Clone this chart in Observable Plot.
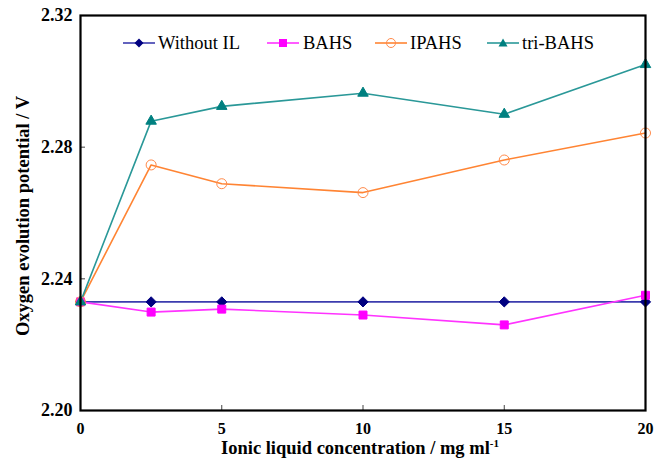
<!DOCTYPE html>
<html><head><meta charset="utf-8">
<script src="https://cdn.jsdelivr.net/npm/d3@7"></script>
<script src="https://cdn.jsdelivr.net/npm/@observablehq/plot@0.6"></script>
<style>
body{margin:0;background:#fff;}
#wrap{position:relative;width:666px;height:465px;font-family:'Liberation Serif',serif;}
#legend{position:absolute;left:0;top:0;width:666px;height:60px;pointer-events:none;font-size:18.5px;color:#000;}
.sw{position:absolute;top:34px;}
.lt{position:absolute;top:32px;line-height:22px;white-space:nowrap;}
</style>
</head><body>
<div id="wrap"><div id="legend"></div></div>
<script>
const conc = [0, 2.5, 5, 10, 15, 20];
const withoutIL = [2.233, 2.233, 2.233, 2.233, 2.233, 2.233];
const bahs = [2.233, 2.2299, 2.2308, 2.229, 2.226, 2.235];
const ipahs = [2.233, 2.2746, 2.2689, 2.2662, 2.2761, 2.2843];
const triBahs = [2.233, 2.2879, 2.2924, 2.2964, 2.290, 2.3051];
const seriesNames = ["Without IL", "BAHS", "IPAHS", "tri-BAHS"];
const xTicks = [0, 5, 10, 15, 20];
const yTicks = [2.20, 2.24, 2.28, 2.32];

const styles = {
  "Without IL": {line: "#3c3cae", fill: "#000080", stroke: "#000080", symbol: "diamond2", r: 4.6},
  "BAHS": {line: "#ff33ff", fill: "#ff00ff", stroke: "#ff00ff", symbol: "square", r: 4.5},
  "IPAHS": {line: "#ff8433", fill: "none", stroke: "#ff8a4a", symbol: "circle", r: 5},
  "tri-BAHS": {line: "#2a9898", fill: "#008080", stroke: "#008080", symbol: "triangle", r: 3.9}
};
const valuesBy = {"Without IL": withoutIL, "BAHS": bahs, "IPAHS": ipahs, "tri-BAHS": triBahs};
const marks = [];
for (const name of seriesNames) {
  const d = conc.map((c, i) => ({x: c, y: valuesBy[name][i]}));
  marks.push(Plot.line(d, {x: "x", y: "y", stroke: styles[name].line, strokeWidth: 1.6}));
}
for (const name of seriesNames) {
  const d = conc.map((c, i) => ({x: c, y: valuesBy[name][i]}));
  const s = styles[name];
  marks.push(Plot.dot(d, {x: "x", y: "y", symbol: () => s.symbol, fill: s.fill, stroke: s.stroke, r: s.r, strokeWidth: 1}));
}

const FONT = "'Liberation Serif', serif";
const chart = Plot.plot({
  width: 666, height: 465,
  marginLeft: 80, marginRight: 21, marginTop: 15, marginBottom: 55,
  style: {fontFamily: FONT, fontSize: "17px", fontWeight: "bold", color: "#000", background: "#fff"},
  x: {domain: [0, 20], label: null},
  y: {domain: [2.20, 2.32], label: null},
  symbol: {type: "identity"},
  marks: [
    ...marks,
    Plot.tickY(yTicks, {y: d => d, stroke: "#444", strokeWidth: 1, insetRight: 560}),
    Plot.tickX(xTicks, {x: d => d, stroke: "#444", strokeWidth: 1, insetTop: 390}),
    Plot.frame({stroke: "#000", strokeWidth: 2.2}),
    Plot.axisX({ticks: xTicks, tickSize: 0, tickPadding: 12, fontSize: 16, fontWeight: "bold", label: null}),
    Plot.axisY({ticks: yTicks, tickSize: 0, tickPadding: 8, tickFormat: d3.format(".2f"), fontSize: 18, fontWeight: "bold", label: null})
  ]
});
const wrap = document.getElementById("wrap");
wrap.insertBefore(chart, wrap.firstChild);

const svg = d3.select(chart);
svg.append("text").attr("x", 360).attr("y", 454).attr("text-anchor", "middle")
  .attr("font-family", "Liberation Serif").attr("font-size", 18.5).attr("font-weight", "bold")
  .html('Ionic liquid concentration / mg ml<tspan dy="-7" font-size="11">-1</tspan>');
svg.append("text").attr("transform", "translate(29,216) rotate(-90)").attr("text-anchor", "middle")
  .attr("font-family", "Liberation Serif").attr("font-size", 18.5).attr("font-weight", "bold")
  .text("Oxygen evolution potential / V");

// legend
const legendSwatchX = {"Without IL": 123, "BAHS": 267, "IPAHS": 375, "tri-BAHS": 487};
const legendTextX = {"Without IL": 158, "BAHS": 303, "IPAHS": 410, "tri-BAHS": 522};
const symPath = {
  diamond2: '<path d="M16,4.5 L20.5,9 L16,13.5 L11.5,9Z" fill="#000080"/>',
  square: '<rect x="12" y="5" width="8" height="8" fill="#ff00ff"/>',
  circle: '<circle cx="16" cy="9" r="4.5" fill="none" stroke="#ff8a4a"/>',
  triangle: '<path d="M16,4.5 L20.5,12.5 L11.5,12.5Z" fill="#008080"/>'
};
const leg = document.getElementById("legend");
for (const name of seriesNames) {
  const s = styles[name];
  const sw = document.createElement("div");
  sw.className = "sw";
  sw.style.left = legendSwatchX[name] + "px";
  sw.innerHTML = `<svg width="32" height="18" style="display:block"><line x1="0" x2="32" y1="9" y2="9" stroke="${s.line}" stroke-width="1.6"/>${symPath[s.symbol]}</svg>`;
  leg.appendChild(sw);
  const t = document.createElement("div");
  t.className = "lt";
  t.style.left = legendTextX[name] + "px";
  t.textContent = name;
  leg.appendChild(t);
}
</script>
</body></html>
